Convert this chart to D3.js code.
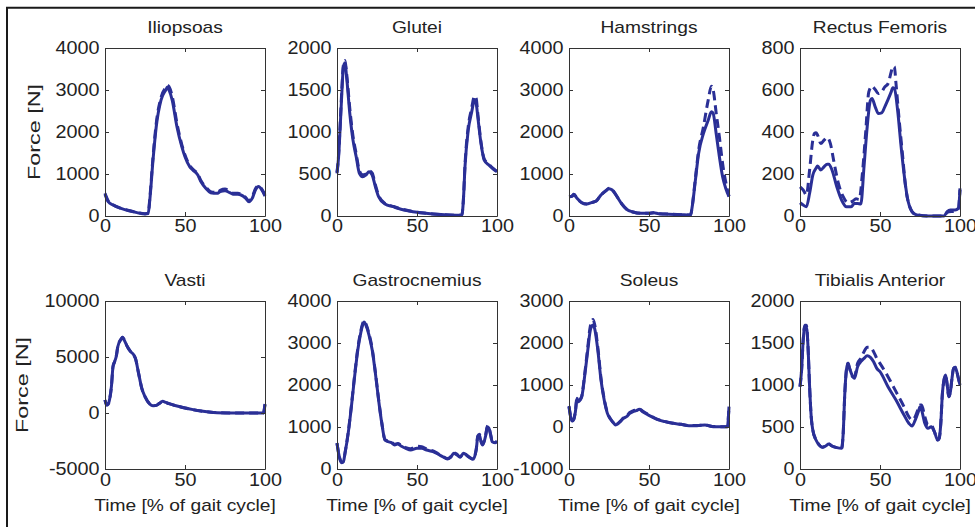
<!DOCTYPE html>
<html>
<head>
<meta charset="UTF-8">
<title>Muscle forces over the gait cycle</title>
<script src="https://d3js.org/d3.v7.min.js"></script>
<style>
	body { margin: 0; background: #fff; }
	svg text { font-family: "Liberation Sans", Arial, sans-serif; fill: #222; }
	.axis path, .axis line { stroke: #333; stroke-width: 1; }
	.axis text { font-size: 18px; }
	.force { fill: none; stroke: #2a2f96; stroke-width: 3; stroke-linejoin: round; }
	.dashed { stroke-dasharray: 9, 5; }
</style>
</head>
<body>
<svg id="chart" width="975" height="527"></svg>
<script>

// ===== DATA =====
var muscles = ["Iliopsoas", "Glutei", "Hamstrings", "Rectus Femoris",
               "Vasti", "Gastrocnemius", "Soleus", "Tibialis Anterior"];
var yDomains = [[0, 4000], [0, 2000], [0, 4000], [0, 800],
                [-5000, 10000], [0, 4000], [-1000, 3000], [0, 2000]];
var yTicks = [[0, 1000, 2000, 3000, 4000], [0, 500, 1000, 1500, 2000],
              [0, 1000, 2000, 3000, 4000], [0, 200, 400, 600, 800],
              [-5000, 0, 5000, 10000], [0, 1000, 2000, 3000, 4000],
              [-1000, 0, 1000, 2000, 3000], [0, 500, 1000, 1500, 2000]];
var xTicks = [0, 50, 100];

// Iliopsoas
var xIlio = [0,2,5,10,15,20,25,27,28,30,32,35,38,39,40,42,45,48,50,53,55,58,60,63,66,70,72,75,78,80,83,85,88,90,92,94,96,98,100];
var ilioSolid = [520,340,260,180,125,80,50,60,380,1330,2120,2760,3000,3070,3000,2760,2120,1650,1410,1170,1090,975,815,660,555,540,580,600,555,520,515,500,420,340,420,620,700,620,475];
var ilioDashed = [540,360,270,185,130,85,55,65,420,1400,2200,2820,3060,3110,3080,2850,2200,1700,1450,1200,1110,1000,840,690,580,560,610,640,590,540,540,520,440,360,450,650,720,640,500];

// Glutei
var xGlut = [0,1,2,3,4,5,6,8,10,12,14,16,18,20,22,24,26,30,35,40,45,50,60,70,78,79,80,82,84,86,87,88,90,92,95,98,100];
var glutSolid = [507,705,1060,1457,1774,1820,1655,1220,903,705,507,467,487,527,487,348,230,143,111,80,60,44,24,12,8,190,586,1020,1220,1378,1340,1180,863,665,606,554,527];
var glutDashed = [520,730,1100,1500,1800,1850,1700,1280,950,740,540,490,500,540,510,370,245,150,115,84,62,46,25,12,8,200,610,1060,1270,1430,1400,1220,880,680,615,560,530];

// Hamstrings
var xHam = [0,2,3,5,8,11,14,17,20,23,25,27,30,33,36,40,45,50,53,56,60,70,76,77,79,81,84,87,89,90,92,94,96,98,100];
var hamSolid = [460,475,520,420,317,285,317,356,500,600,650,620,460,285,160,95,63,63,79,55,48,32,24,220,855,1490,1960,2280,2480,2455,1960,1410,935,655,460];
var hamDashed = [460,475,520,420,317,285,317,356,500,600,660,630,465,290,165,95,63,63,79,55,48,32,24,230,900,1560,2120,2760,3090,3020,2450,1880,1250,800,470];

// Rectus Femoris
var xRecSolid = [0,2,4,6,8,10,11,13,15,17,18,20,23,26,29,32,34,36,38,40,42,44,45,47,49,51,53,55,57,58,59,61,63,65,67,70,73,80,90,92,94,97,99,100];
var recSolid = [63,52,44,108,195,227,238,219,234,247,247,219,139,76,44,44,60,60,57,234,425,551,559,520,488,491,520,554,591,611,607,504,345,203,92,21,5,0,0,21,29,29,36,124];
var xRecDashed = [0,2,4,6,8,9,10,11,13,15,17,19,21,24,27,30,33,35,37,39,41,43,45,47,49,51,53,55,57,58,59,60,62,64,66,69,72,80,90,92,97,99,100];
var recDashed = [139,124,100,219,361,393,396,385,345,361,374,345,266,155,92,63,71,82,79,203,393,591,618,602,583,591,615,630,686,713,710,630,456,298,139,36,8,0,0,17,25,36,131];

// Vasti
var xVas = [0,1,2,3,4,5,6,7,8,10,11,12,14,16,18,19,21,23,25,28,30,32,34,36,38,40,45,50,55,60,65,70,80,99,100];
var vasSolid = [1160,714,800,1310,2350,4140,4580,5030,5920,6580,6760,6520,5920,5480,5180,4880,3540,2200,1460,800,650,680,860,1040,950,830,625,446,300,180,90,30,0,0,800];
var vasDashed = [1160,714,800,1310,2350,4140,4580,5030,5920,6580,6760,6520,5920,5480,5180,4880,3540,2200,1460,800,650,680,860,1040,950,830,625,446,300,180,90,30,0,0,800];

// Gastrocnemius
var xGas = [0,1,2,3,4,5,7,9,11,13,15,16,17,18,20,22,24,26,28,30,32,34,36,38,40,43,46,50,53,56,60,63,66,69,71,73,75,77,79,82,85,87,88,89,90,91,93,94,95,96,97,99,100];
var gasSolid = [611,373,214,150,175,373,850,1484,2198,2833,3270,3430,3500,3430,3190,2833,2278,1643,1087,690,650,627,571,595,548,492,452,492,492,452,413,357,294,238,278,373,333,278,373,294,230,452,770,810,650,571,810,1008,968,810,650,627,650];
var gasDashed = [620,380,220,155,180,380,870,1510,2230,2870,3310,3460,3530,3460,3220,2860,2300,1660,1100,700,660,640,590,610,570,510,480,540,530,480,430,370,305,250,290,390,350,290,380,300,240,470,790,830,670,590,830,1020,980,830,670,640,660];

// Soleus
var xSol = [0,1,2,3,4,5,6,7,8,10,12,13,14,15,16,18,20,22,24,26,28,29,30,32,34,36,38,40,42,44,46,50,55,60,65,70,75,80,85,88,90,99,100];
var solSolid = [484,246,143,183,365,683,603,643,722,1278,1913,2230,2389,2429,2350,1833,1119,643,325,183,87,48,63,127,206,246,325,365,389,421,365,278,183,127,87,63,32,32,48,24,8,8,484];
var solDashed = [500,260,150,190,380,700,620,660,740,1320,1990,2330,2500,2560,2450,1900,1160,670,340,190,92,52,68,135,215,260,345,385,405,430,380,290,190,132,90,66,35,34,50,26,10,8,500];

// Tibialis Anterior
var xTib = [0,1,2,3,4,5,6,7,8,10,12,14,16,18,20,23,26,27,28,29,30,31,33,34,36,38,40,42,44,46,48,50,55,60,65,68,70,72,74,75,76,78,80,82,84,86,87,88,89,90,91,92,93,94,95,96,97,98,99,100];
var tibSolid = [980,1179,1536,1694,1694,1456,980,623,464,345,286,258,274,298,274,254,246,425,901,1179,1258,1198,1099,1079,1218,1278,1317,1349,1329,1278,1198,1159,980,821,643,544,512,583,683,742,702,544,484,504,444,345,365,544,901,1060,1119,1000,861,921,1079,1198,1210,1159,1079,1000];
var tibDashed = [980,1179,1536,1710,1710,1456,980,623,464,345,286,258,274,298,274,254,246,425,901,1179,1258,1198,1099,1100,1260,1317,1397,1448,1448,1397,1317,1258,1099,921,742,623,583,623,722,762,762,623,524,524,444,345,365,544,901,1060,1119,1000,861,921,1079,1198,1210,1159,1079,1000];

var panels = [
	{ xs: xIlio, solid: ilioSolid, xd: xIlio, dashed: ilioDashed },
	{ xs: xGlut, solid: glutSolid, xd: xGlut, dashed: glutDashed },
	{ xs: xHam, solid: hamSolid, xd: xHam, dashed: hamDashed },
	{ xs: xRecSolid, solid: recSolid, xd: xRecDashed, dashed: recDashed },
	{ xs: xVas, solid: vasSolid, xd: xVas, dashed: vasDashed },
	{ xs: xGas, solid: gasSolid, xd: xGas, dashed: gasDashed },
	{ xs: xSol, solid: solSolid, xd: xSol, dashed: solDashed },
	{ xs: xTib, solid: tibSolid, xd: xTib, dashed: tibDashed }
];

// ===== LAYOUT =====
var colLeft = [105, 337, 569, 800],
	rowTop = [48, 301],
	pw = 160, ph = 168;

// plain integers, ASCII minus like the MATLAB figure
var fmt = function(d) { return String(d); };

var svg = d3.select("#chart");

// outer frame (cut off at right / bottom like the source)
svg.append("path")
	.attr("d", "M7,540V7.7H990")
	.attr("fill", "none")
	.attr("stroke", "#1a1a1a")
	.attr("stroke-width", 2);

panels.forEach(function(p, i) {
	var col = i % 4, row = Math.floor(i / 4);
	var g = svg.append("g")
		.attr("transform", "translate(" + colLeft[col] + "," + rowTop[row] + ")");

	var x = d3.scaleLinear().domain([0, 100]).range([0, pw]);
	var y = d3.scaleLinear().domain(yDomains[i]).range([ph, 0]);

	var line = d3.line()
		.x(function(d) { return x(d[0]); })
		.y(function(d) { return y(d[1]); })
		.curve(d3.curveMonotoneX);

	//==lines===
	g.append("path")
		.attr("class", "force dashed")
		.attr("d", line(d3.zip(p.xd, p.dashed)));
	g.append("path")
		.attr("class", "force")
		.attr("d", line(d3.zip(p.xs, p.solid)));

	//==axes (MATLAB-style box, inward ticks)===
	g.append("g").attr("class", "axis")
		.attr("transform", "translate(0," + ph + ")")
		.call(d3.axisBottom(x).tickValues(xTicks).tickFormat(fmt)
			.tickSize(-4).tickSizeOuter(0).tickPadding(row === 0 ? 3 : 4));
	g.append("g").attr("class", "axis")
		.call(d3.axisLeft(y).tickValues(yTicks[i]).tickFormat(fmt)
			.tickSize(-4).tickSizeOuter(0).tickPadding(5));
	g.append("g").attr("class", "axis")
		.call(d3.axisTop(x).tickValues(xTicks).tickSize(-4).tickSizeOuter(0).tickFormat(""));
	g.append("g").attr("class", "axis")
		.attr("transform", "translate(" + pw + ",0)")
		.call(d3.axisRight(y).tickValues(yTicks[i]).tickSize(-4).tickSizeOuter(0).tickFormat(""));

	g.selectAll(".axis text").attr("transform", "scale(1.1,1)").attr("fill", "#222");

	// title
	g.append("text")
		.attr("transform", "translate(" + (pw / 2) + ",-15) scale(1.2,1)")
		.attr("text-anchor", "middle")
		.style("font-size", "16px")
		.text(muscles[i]);

	if (col === 0) {
		svg.append("text")
			.attr("transform", "translate(" + (row === 0 ? 40 : 28) + "," + (rowTop[row] + ph / 2) + ") rotate(-90)")
			.attr("text-anchor", "middle")
			.attr("textLength", 96)
			.attr("lengthAdjust", "spacingAndGlyphs")
			.style("font-size", "16px")
			.text("Force [N]");
	}
	if (row === 1) {
		g.append("text")
			.attr("transform", "translate(" + (pw / 2) + "," + (ph + 42) + ") scale(1.2,1)")
			.attr("text-anchor", "middle")
			.style("font-size", "16px")
			.text("Time [% of gait cycle]");
	}
});
</script>
</body>
</html>
